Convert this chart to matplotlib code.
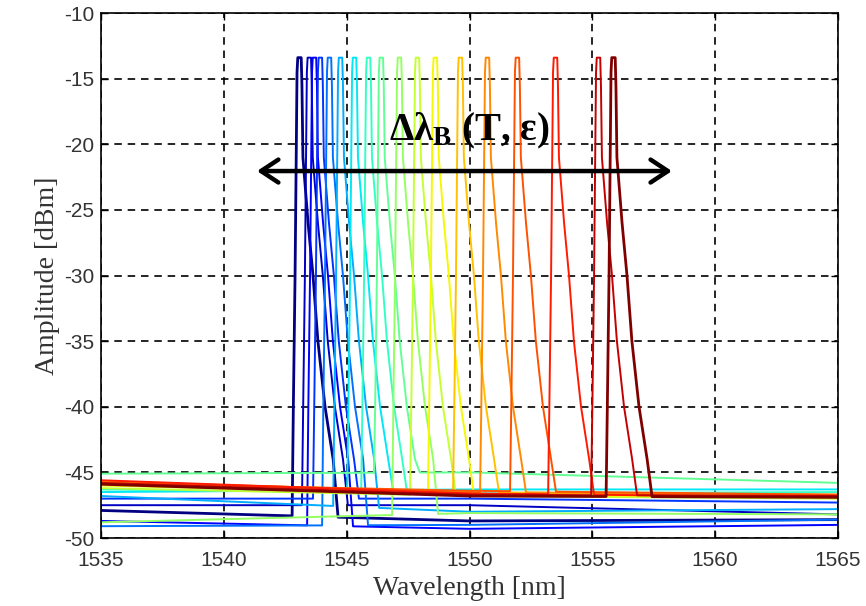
import numpy as np
import matplotlib
matplotlib.use("Agg")
import matplotlib.pyplot as plt

# ---------------- data ----------------
# left-edge wavelength of each FBG reflection peak [nm]
peak_edge = [1542.98, 1543.38, 1543.59, 1543.83, 1544.20, 1544.65, 1545.22, 1545.79,
             1546.31, 1547.05, 1547.78, 1548.51, 1549.53, 1550.63, 1551.85, 1553.40,
             1555.15, 1555.76]
peak_top = -13.4  # dBm

# noise-floor level of each spectrum at 1535, 1550 and 1565 nm [dBm]
floor_anchor_wl = [1535.0, 1550.0, 1565.0]
floor_1535 = [-47.9, -47.5, -48.7, -47.0, -49.1, -46.8, -46.5, -46.3, -45.1,
              -48.8, -46.2, -46.0, -45.9, -45.7, -45.8, -45.6, -45.8, -45.9]
floor_1550 = [-48.7, -47.5, -49.3, -47.0, -49.0, -48.0, -46.3, -46.6, -45.0,
              -48.1, -46.8, -46.7, -46.5, -46.5, -46.4, -46.6, -46.7, -46.8]
floor_1565 = [-48.6, -48.2, -49.0, -47.3, -48.6, -47.8, -46.3, -46.5, -45.8,
              -48.2, -47.0, -46.9, -46.8, -46.7, -46.7, -46.9, -46.8, -46.9]

# common peak profile: offset from left edge [nm] and level [dBm] (None = floor)
profile_dnm = [-0.20, -0.15, -0.08, 0.00, 0.03, 0.17, 0.20, 0.24, 0.45, 0.65, 0.85, 1.14, 1.47, 1.67]
profile_db = [None, -40.0, -30.0, -14.5, -13.4, -13.4, -15.5, -21.0, -26.0, -30.0, -35.0, -40.0, -44.0, None]

x_ticks = [1535, 1540, 1545, 1550, 1555, 1560, 1565]
y_ticks = [-50, -45, -40, -35, -30, -25, -20, -15, -10]

arrow_x = [1541.35, 1558.24]
arrow_y = -22.04
label_xy = (1550.0, -19.0)

# ---------------- drawing ----------------
plt.rcParams['axes.unicode_minus'] = False
plt.rcParams['mathtext.fontset'] = 'custom'
plt.rcParams['mathtext.rm'] = 'Liberation Serif:bold'
plt.rcParams['mathtext.it'] = 'Liberation Serif:italic:bold'
plt.rcParams['mathtext.bf'] = 'Liberation Serif:bold'

fig = plt.figure(figsize=(8.66, 6.06), dpi=100)
ax = fig.add_axes([0.1166, 0.1122, 0.8511, 0.8663])

n = len(peak_edge)
cmap = plt.get_cmap('jet')
for i in range(n):
    floors = [floor_1535[i], floor_1550[i], floor_1565[i]]
    e = peak_edge[i]
    xs, ys = [], []
    lo, hi = e + profile_dnm[0], e + profile_dnm[-1]
    for wl, fl in zip(floor_anchor_wl, floors):
        if not (lo <= wl <= hi):
            xs.append(wl)
            ys.append(fl)
    for d, lv in zip(profile_dnm, profile_db):
        x = e + d
        fl = float(np.interp(x, floor_anchor_wl, floors))
        xs.append(x)
        ys.append(fl if lv is None else max(lv, fl))
    order = np.argsort(xs)
    xs = np.asarray(xs)[order]
    ys = np.asarray(ys)[order]
    lw = 2.0 if i in (0, n - 1) else 1.4
    ax.plot(xs, ys, color=cmap(i / (n - 1)), lw=lw, zorder=2)

ax.set_xlim(1535, 1565)
ax.set_ylim(-50, -10)
ax.set_xticks(x_ticks)
ax.set_yticks(y_ticks)
ax.grid(True, color='black', linestyle=(0, (4.5, 3.5)), linewidth=1.2, zorder=1)
ax.set_axisbelow(True)
ax.tick_params(direction='in', top=True, right=True, length=5, width=1,
               labelsize=15, colors='black')
ax.tick_params(axis='x', pad=9)
ax.tick_params(axis='y', pad=5)
for lab in ax.get_xticklabels() + ax.get_yticklabels():
    lab.set_fontfamily('Liberation Sans')
    lab.set_color('#333333')
for sp in ax.spines.values():
    sp.set_linewidth(1.2)

ax.set_xlabel('Wavelength [nm]', fontfamily='Liberation Serif', fontsize=20,
              color='#333333', labelpad=5)
ax.set_ylabel('Amplitude [dBm]', fontfamily='Liberation Serif', fontsize=20,
              color='#333333', labelpad=3)

ax.annotate('', xy=(arrow_x[1], arrow_y), xytext=(arrow_x[0], arrow_y),
            arrowprops=dict(arrowstyle='<->, head_length=0.5, head_width=0.33',
                            mutation_scale=25, lw=3.2, color='black',
                            shrinkA=0, shrinkB=0), zorder=5)
ax.text(label_xy[0], label_xy[1], r'$\mathrm{Δλ}_{\mathrm{B}}$ (T, ε)',
        fontfamily='Liberation Serif', fontweight='bold', fontsize=28,
        ha='center', va='center', zorder=6)

fig.savefig('out.png', dpi=100)
